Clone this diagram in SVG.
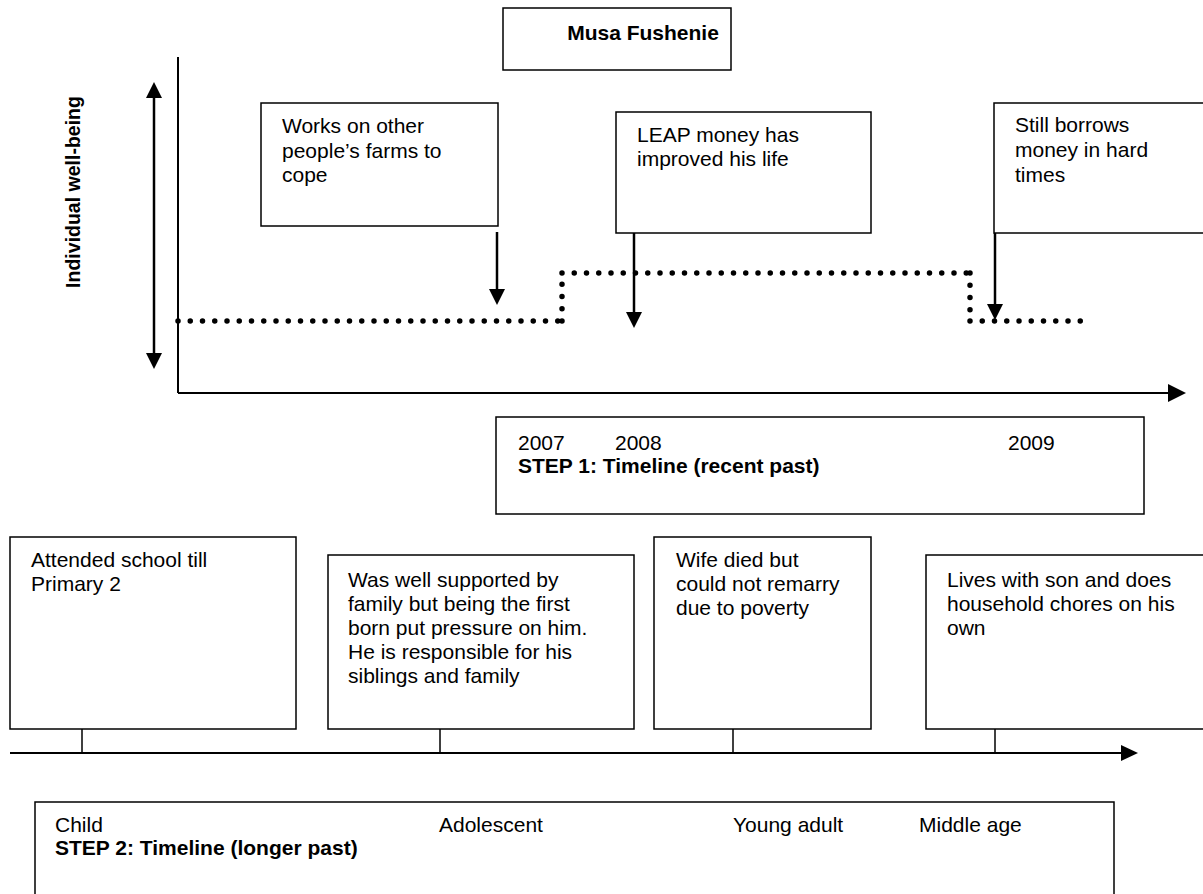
<svg xmlns="http://www.w3.org/2000/svg" width="1203" height="894" viewBox="0 0 1203 894">
  <style>
    text { font-family: "Liberation Sans", Arial, sans-serif; font-size: 21px; fill: #000; }
    .b { font-weight: bold; }
    .box { fill: #fff; stroke: #000; stroke-width: 1.5; }
    .axis { stroke: #000; stroke-width: 2; fill: none; }
    .ptr { stroke: #000; stroke-width: 2.5; fill: none; }
    .dots { stroke: #000; stroke-width: 5.5; stroke-linecap: round; stroke-dasharray: 0 12.25; fill: none; }
    .tick { stroke: #000; stroke-width: 1.5; }
  </style>
  <defs>
    <marker id="head" viewBox="0 0 10 10" refX="10" refY="5" markerWidth="8" markerHeight="8" markerUnits="userSpaceOnUse" orient="auto-start-reverse">
      <path d="M0,0 L10,5 L0,10 z" fill="#000"/>
    </marker>
    <marker id="headL" viewBox="0 0 10 10" refX="10" refY="5" markerWidth="16" markerHeight="16" markerUnits="userSpaceOnUse" orient="auto-start-reverse">
      <path d="M0,0 L10,5 L0,10 z" fill="#000"/>
    </marker>
  </defs>

  <g id="title">
    <rect class="box" x="503" y="8" width="228" height="62"/>
    <text class="b" x="643" y="40" text-anchor="middle">Musa Fushenie</text>
  </g>

  <g id="wellbeing-axis">
    <text class="b" transform="translate(80,192) rotate(-90)" text-anchor="middle" style="font-size:19.5px">Individual well-being</text>
  </g>

  <g id="connectors">
    <!-- well-being scale -->
    <line class="ptr" x1="154" y1="98" x2="154" y2="353"/>
    <path d="M154,82 L146,98 L162,98 z" fill="#000"/>
    <path d="M154,369 L146,353 L162,353 z" fill="#000"/>
    <!-- recent-past axes -->
    <line class="axis" x1="178" y1="57" x2="178" y2="393"/>
    <line class="axis" x1="178" y1="393" x2="1170" y2="393"/>
    <path d="M1186,393 L1168,384 L1168,402 z" fill="#000"/>
    <!-- well-being trace -->
    <line class="dots" x1="178" y1="321" x2="558" y2="321"/>
    <line class="dots" x1="562" y1="321" x2="562" y2="273"/>
    <line class="dots" x1="562" y1="273" x2="970" y2="273"/>
    <line class="dots" x1="970" y1="273" x2="970" y2="321"/>
    <line class="dots" x1="970" y1="321" x2="1082" y2="321"/>
    <!-- event pointers -->
    <line class="ptr" x1="497" y1="232" x2="497" y2="290"/>
    <path d="M497,305 L489,289 L505,289 z" fill="#000"/>
    <line class="ptr" x1="634" y1="233" x2="634" y2="313"/>
    <path d="M634,328 L626,312 L642,312 z" fill="#000"/>
    <line class="ptr" x1="995" y1="233" x2="995" y2="305"/>
    <path d="M995,320 L987,304 L1003,304 z" fill="#000"/>
    <!-- longer-past axis -->
    <line class="axis" x1="10" y1="753" x2="1124" y2="753"/>
    <path d="M1138,753 L1121,745 L1121,761 z" fill="#000"/>
    <line class="tick" x1="82" y1="729" x2="82" y2="753"/>
    <line class="tick" x1="440" y1="729" x2="440" y2="753"/>
    <line class="tick" x1="733" y1="729" x2="733" y2="753"/>
    <line class="tick" x1="995" y1="729" x2="995" y2="753"/>
  </g>

  <g id="farms">
    <rect class="box" x="261" y="103" width="237" height="123"/>
    <text x="282" y="133">Works on other</text>
    <text x="282" y="158">people’s farms to</text>
    <text x="282" y="182">cope</text>
  </g>

  <g id="leap">
    <rect class="box" x="616" y="112" width="255" height="121"/>
    <text x="637" y="142">LEAP money has</text>
    <text x="637" y="166">improved his life</text>
  </g>

  <g id="borrows">
    <rect class="box" x="994" y="103" width="220" height="130"/>
    <text x="1015" y="132">Still borrows</text>
    <text x="1015" y="157">money in hard</text>
    <text x="1015" y="182">times</text>
  </g>

  <g id="step1">
    <rect class="box" x="496" y="417" width="648" height="97"/>
    <text x="518" y="450">2007</text>
    <text x="615" y="450">2008</text>
    <text x="1008" y="450">2009</text>
    <text class="b" x="518" y="473">STEP 1: Timeline (recent past)</text>
  </g>

  <g id="school">
    <rect class="box" x="10" y="537" width="286" height="192"/>
    <text x="31" y="567">Attended school till</text>
    <text x="31" y="591">Primary 2</text>
  </g>

  <g id="firstborn">
    <rect class="box" x="328" y="555" width="306" height="174"/>
    <text x="348" y="587">Was well supported by</text>
    <text x="348" y="611">family but being the first</text>
    <text x="348" y="635">born put pressure on him.</text>
    <text x="348" y="659">He is responsible for his</text>
    <text x="348" y="683">siblings and family</text>
  </g>

  <g id="wife">
    <rect class="box" x="654" y="537" width="217" height="192"/>
    <text x="676" y="567">Wife died but</text>
    <text x="676" y="591">could not remarry</text>
    <text x="676" y="615">due to poverty</text>
  </g>

  <g id="son">
    <rect class="box" x="926" y="555" width="290" height="174"/>
    <text x="947" y="587">Lives with son and does</text>
    <text x="947" y="611">household chores on his</text>
    <text x="947" y="635">own</text>
  </g>

  <g id="step2">
    <rect class="box" x="35" y="802" width="1079" height="110"/>
    <text x="55" y="832">Child</text>
    <text x="439" y="832">Adolescent</text>
    <text x="733" y="832">Young adult</text>
    <text x="919" y="832">Middle age</text>
    <text class="b" x="55" y="855">STEP 2: Timeline (longer past)</text>
  </g>
</svg>
